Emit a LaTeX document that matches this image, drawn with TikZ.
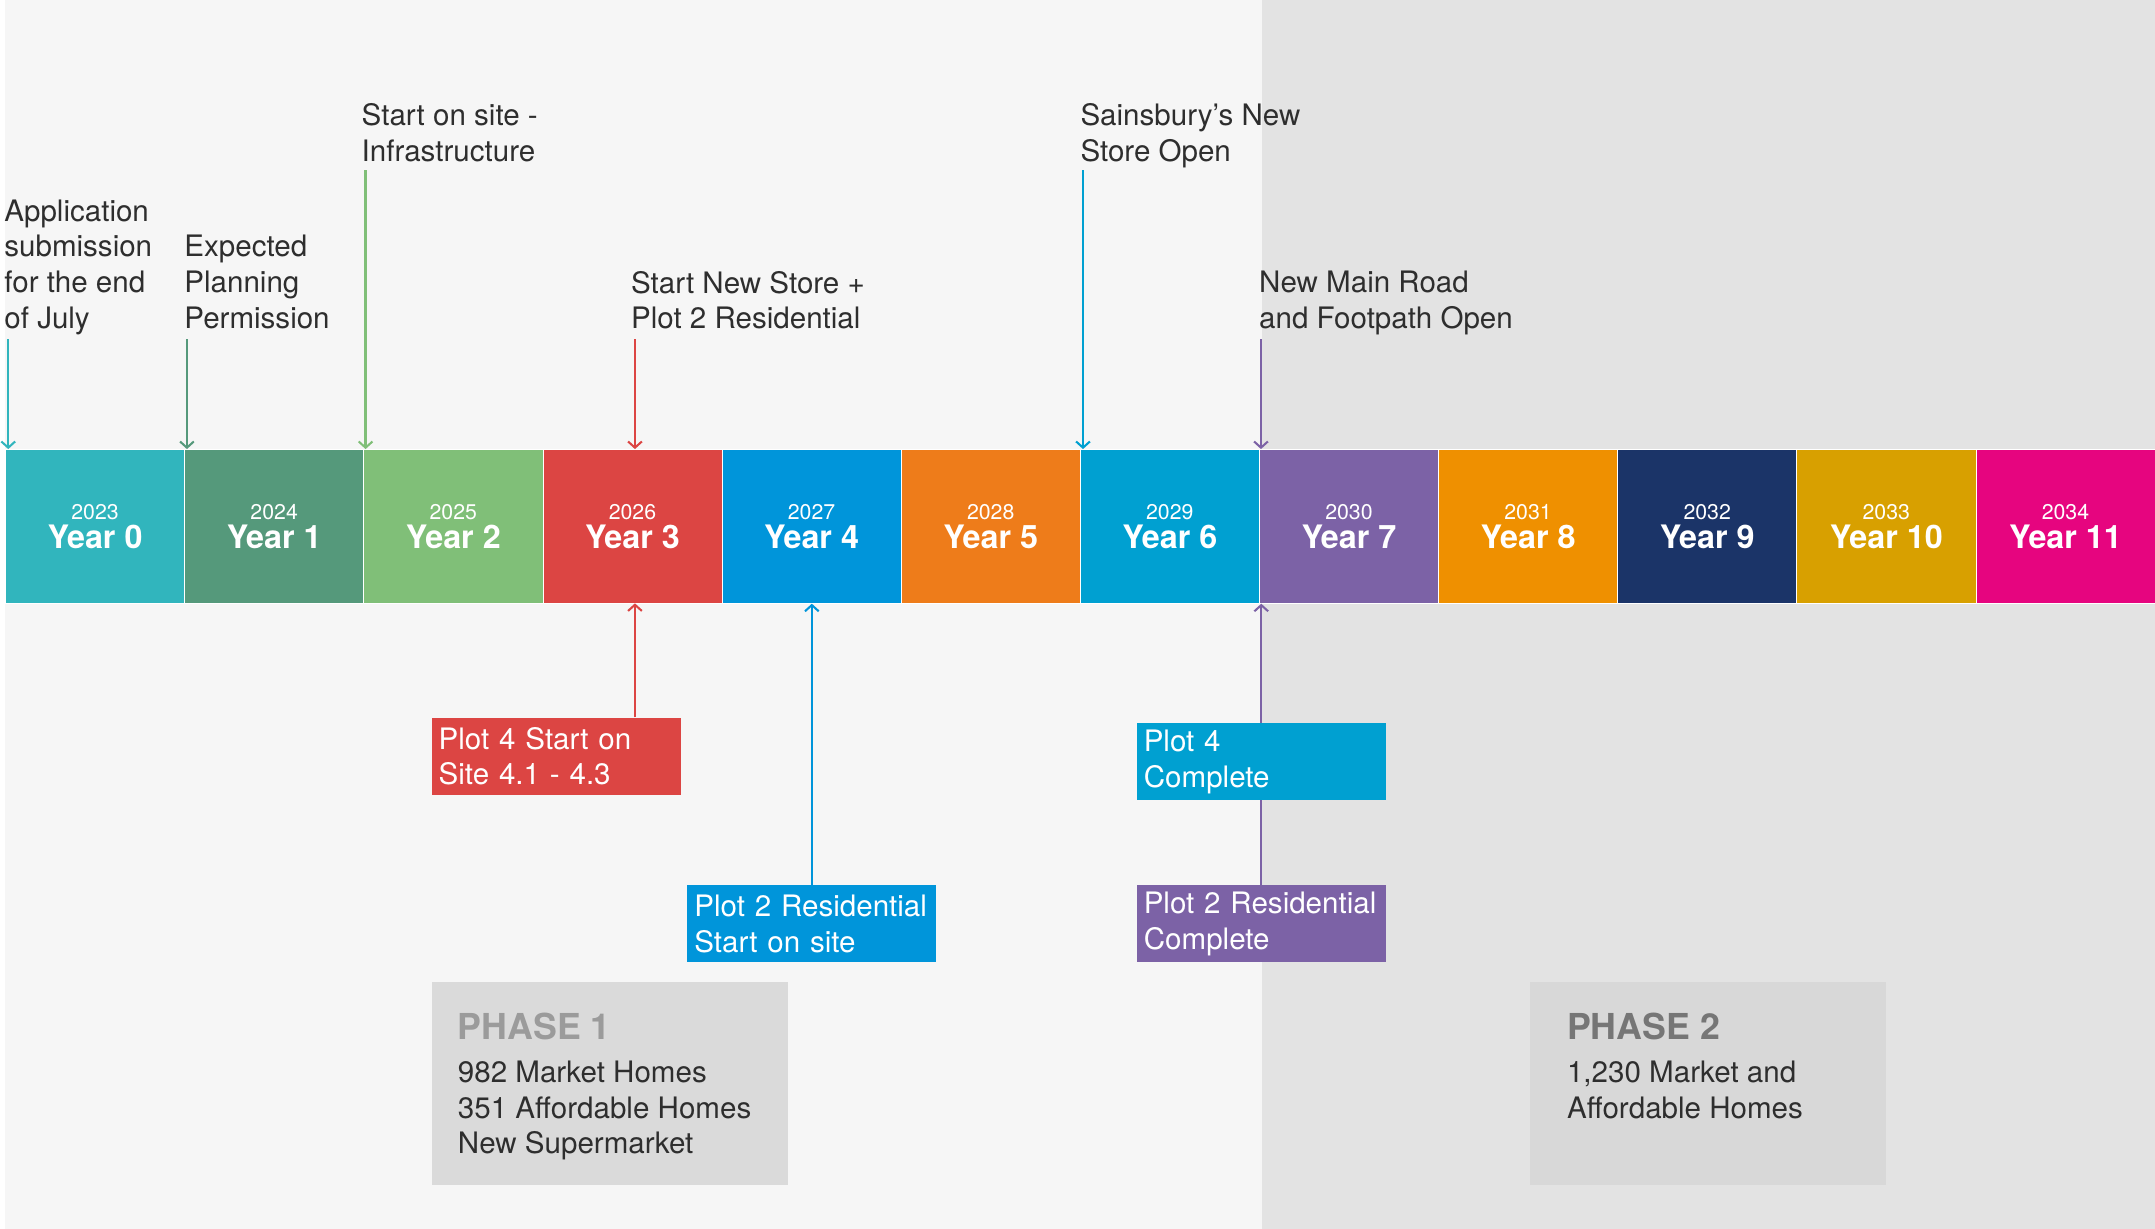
\documentclass[tikz,border=0pt]{standalone}
\usepackage{fontspec}
\setmainfont{TeX Gyre Heros}
\usetikzlibrary{arrows.meta}
\definecolor{bgl}{HTML}{F6F6F6}
\definecolor{bgd}{HTML}{E3E3E3}
\definecolor{ink}{HTML}{2E2E2E}
\definecolor{c0}{HTML}{31B5BD}
\definecolor{c1}{HTML}{55997B}
\definecolor{c2}{HTML}{80BF78}
\definecolor{c3}{HTML}{DC4543}
\definecolor{c4}{HTML}{0095DA}
\definecolor{c5}{HTML}{EE7C1A}
\definecolor{c6}{HTML}{00A0D1}
\definecolor{c7}{HTML}{7C62A6}
\definecolor{c8}{HTML}{EF9000}
\definecolor{c9}{HTML}{1B3468}
\definecolor{c10}{HTML}{D8A000}
\definecolor{c11}{HTML}{E6057F}
\definecolor{ph1}{HTML}{DADADA}
\definecolor{ph2}{HTML}{D8D8D8}
\newcommand\lblfont{\fontsize{21.5}{26}\selectfont}
\begin{document}
\begin{tikzpicture}[x=1pt,y=-1pt,
  yearbox/.style={rectangle, minimum width=130.33pt, minimum height=112pt, draw=white, line width=0.5pt, text=white, align=center, inner sep=0pt, font=\fontsize{23.5}{21}\selectfont},
  lbl/.style={anchor=north west, align=left, inner sep=0pt, text=ink, font=\lblfont},
  plotbox/.style={anchor=north west, rectangle, minimum width=181pt, minimum height=56pt, text width=171pt, inner xsep=5pt, inner ysep=0pt, align=left, text=white, font=\lblfont},
  conn/.style={line width=1.6pt},
  arr/.style={conn, -{Straight Barb[length=4.5pt,width=10pt,line width=1.5pt]}},
  phasebox/.style={anchor=north west, rectangle, minimum width=259pt, minimum height=148pt, inner sep=0pt},
  phasetxt/.style={anchor=north west, align=left, inner sep=0pt, text=ink, font=\lblfont}
]
\useasboundingbox (0,0) rectangle (1568,894);
\fill[white] (0,0) rectangle (1568,894);
\fill[bgl] (4,0) rectangle (918,894);
\fill[bgd] (918,0) rectangle (1568,894);

% timeline bar
\foreach \i in {0,...,11} {
  \node[yearbox, fill=c\i] (y\i) at ({4+130.333*(\i+0.5)},383)
    {{\fontsize{15.5}{18}\selectfont\the\numexpr2023+\i\relax}\\{\bfseries Year \i}};
}

% top labels
\node[lbl] (l0) at (3,145) {Application\\submission\\for the end\\of July};
\node[lbl] (l1) at (134,171) {Expected\\Planning\\Permission};
\node[lbl] (l2) at (263,75) {Start on site -\\Infrastructure};
\node[lbl] (l3) at (459,197) {Start New Store +\\Plot 2 Residential};
\node[lbl] (l6) at (786,75) {Sainsbury’s New\\Store Open};
\node[lbl] (l7) at (916,197) {New Main Road\\and Footpath Open};

\coordinate (t0) at (6,247);
\coordinate (t1) at (136,247);
\coordinate (t2) at (266,124);
\coordinate (t3) at (462,247);
\coordinate (t6) at (788,124);
\coordinate (t7) at (917.5,247);
\draw[arr, c0] (t0) -- (t0 |- y0.north);
\draw[arr, c1] (t1) -- (t1 |- y1.north);
\draw[arr, c2] (t2) -- (t2 |- y2.north);
\draw[arr, c3] (t3) -- (t3 |- y3.north);
\draw[arr, c6] (t6) -- (t6 |- y6.north);
\draw[arr, c7] (t7) -- (t7 |- y7.north);

% bottom boxes
\node[plotbox, fill=c3] (p4s) at (314,522) {Plot 4 Start on\\Site 4.1 - 4.3};
\node[plotbox, fill=c4] (p2s) at (500,644) {Plot 2 Residential\\Start on site};
\node[plotbox, fill=c6] (p4c) at (827,526) {Plot 4\\Complete};
\node[plotbox, fill=c7] (p2c) at (827,644) {Plot 2 Residential\\Complete};

\coordinate (b3) at (462,439);
\draw[arr, c3] (b3 |- p4s.north) -- (b3);
\draw[arr, c4] (p2s.north) -- (p2s.north |- y4.south);
\draw[conn, c7] (p2c.north) -- (p4c.south);
\draw[arr, c7] (p4c.north) -- (p4c.north |- y7.south);

% phase boxes
\node[phasebox, fill=ph1] (ph1) at (314,714) {};
\node[phasetxt] (ph1t) at ([shift={(19,23)}]ph1.north west)
  {{\fontsize{26}{26}\selectfont\bfseries\color[HTML]{9B9B9B}PHASE 1}\\[5pt]982 Market Homes\\351 Affordable Homes\\New Supermarket};
\node[phasebox, fill=ph2] (ph2) at (1113,714) {};
\node[phasetxt] (ph2t) at ([shift={(27,23)}]ph2.north west)
  {{\fontsize{26}{26}\selectfont\bfseries\color[HTML]{767676}PHASE 2}\\[5pt]1,230 Market and\\Affordable Homes};
\end{tikzpicture}
\end{document}
